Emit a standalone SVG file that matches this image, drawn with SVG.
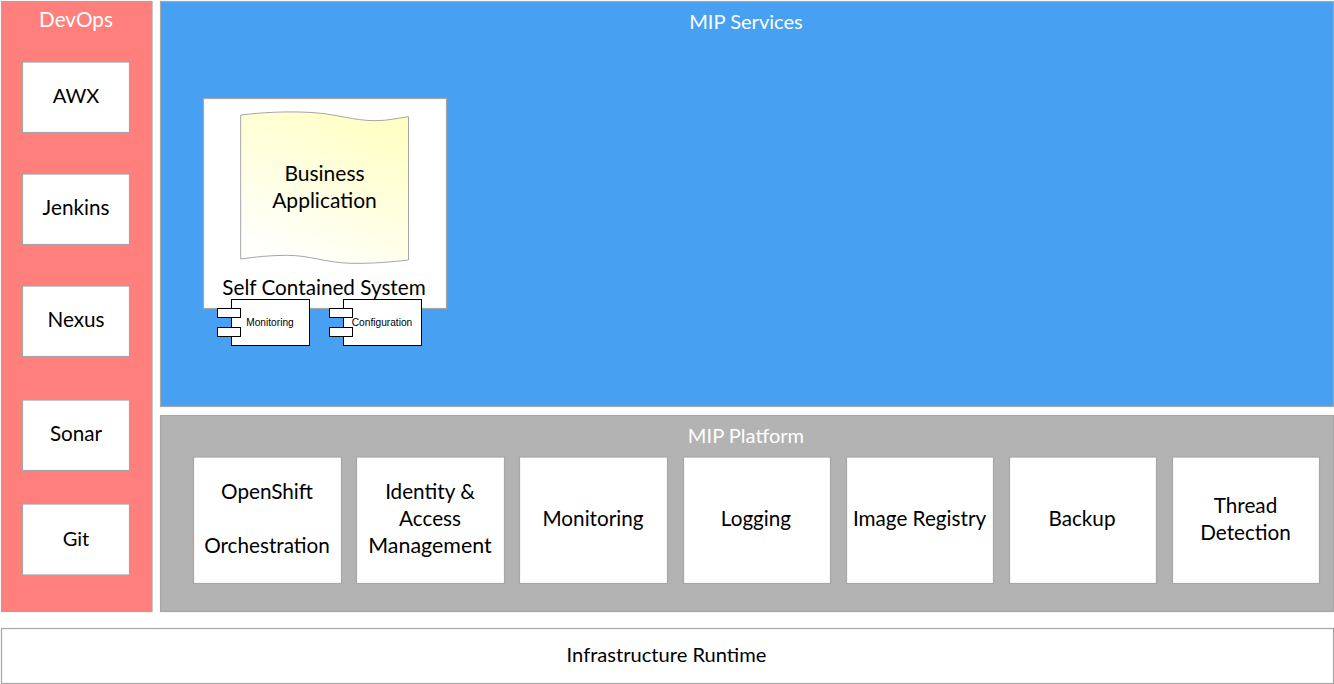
<svg xmlns="http://www.w3.org/2000/svg" width="1334" height="684" viewBox="0 0 1334 684">
<style>
text{font-family:"Lato","Noto Sans",sans-serif;font-size:20.7px;text-anchor:middle;fill:#000}
.t20{font-size:20.1px}
.w{fill:#fff}
.box{fill:#fff;stroke:#a6a6a6;stroke-width:1.2}
.pan{stroke:#a6a6a6;stroke-width:1.2}
.cmp{fill:#fff;stroke:#000;stroke-width:1}
.sm{font-family:"Liberation Sans",Arial,sans-serif;font-size:10.2px}
</style>
<defs>
<linearGradient id="doc" x1="0.9" y1="0" x2="0.4" y2="1">
<stop offset="0" stop-color="#ffffc0"/>
<stop offset="1" stop-color="#fffffb"/>
</linearGradient>
</defs>
<rect width="1334" height="684" fill="#fff"/>
<g id="devops">
<rect class="pan" x="1.500" y="1.500" width="150.500" height="610" fill="#ff7f7c"/>
<text class="w" x="76" y="27">DevOps</text>
</g>
<g id="awx"><rect class="box" x="22.500" y="62" width="107" height="70.500"/><text class="t20" x="76" y="103">AWX</text></g>
<g id="jenkins"><rect class="box" x="22.500" y="174" width="107" height="70.500"/><text x="76" y="215">Jenkins</text></g>
<g id="nexus"><rect class="box" x="22.500" y="286" width="107" height="70.500"/><text x="76" y="327">Nexus</text></g>
<g id="sonar"><rect class="box" x="22.500" y="400" width="107" height="70.500"/><text x="76" y="441">Sonar</text></g>
<g id="git"><rect class="box" x="22.500" y="504" width="107" height="71"/><text class="t20" x="76" y="546">Git</text></g>
<g id="services">
<rect class="pan" x="160.500" y="1.500" width="1173" height="405" fill="#47a0f2"/>
<text class="w t20" x="746" y="29">MIP Services</text>
</g>
<g id="scs">
<rect class="box" x="203.500" y="98.500" width="243" height="210"/>
<text x="324" y="295">Self Contained System</text>
</g>
<g id="business-application">
<path d="M240.700 115 C262 112.500 285 111 312 112.500 C340 114.500 352 120.500 375 120.700 C388 120.800 398 118 408.500 116.700 L408.500 260 C392 262 372 263.700 350 263.300 C325 262.500 310 255.300 286.700 255.300 C270 255.300 255 257 240.700 259 Z" fill="url(#doc)" stroke="#a6a6a6" stroke-width="1"/>
<text x="324.500" y="181" style="font-size:21px">Business</text>
<text x="324.500" y="208" style="font-size:21px">Application</text>
</g>
<g id="monitoring-component">
<rect class="cmp" x="231.500" y="299.500" width="78" height="46"/>
<rect class="cmp" x="217.500" y="308.500" width="23" height="9"/>
<rect class="cmp" x="217.500" y="327.500" width="23" height="9"/>
<text class="sm" x="270" y="326">Monitoring</text>
</g>
<g id="configuration-component">
<rect class="cmp" x="343.500" y="299.500" width="78" height="46"/>
<rect class="cmp" x="329.500" y="308.500" width="23" height="9"/>
<rect class="cmp" x="329.500" y="327.500" width="23" height="9"/>
<text class="sm" x="382" y="326">Configuration</text>
</g>
<g id="platform">
<rect class="pan" x="160.500" y="415.500" width="1173" height="196" fill="#b3b3b3"/>
<text class="w t20" x="746" y="443">MIP Platform</text>
</g>
<g id="openshift"><rect class="box" x="193.500" y="457" width="148" height="126.500"/><text x="267" y="499">OpenShift</text><text x="267" y="553">Orchestration</text></g>
<g id="iam"><rect class="box" x="356.500" y="457" width="148" height="126.500"/><text x="430" y="499">Identity &amp;</text><text x="430" y="526">Access</text><text x="430" y="553" style="font-size:21.400px">Management</text></g>
<g id="monitoring"><rect class="box" x="519.500" y="457" width="148" height="126.500"/><text x="593" y="526">Monitoring</text></g>
<g id="logging"><rect class="box" x="683.500" y="457" width="147" height="126.500"/><text x="756" y="526">Logging</text></g>
<g id="image-registry"><rect class="box" x="846.500" y="457" width="147" height="126.500"/><text x="919.500" y="526">Image Registry</text></g>
<g id="backup"><rect class="box" x="1009.500" y="457" width="147" height="126.500"/><text x="1082" y="526">Backup</text></g>
<g id="thread-detection"><rect class="box" x="1172.500" y="457" width="147" height="126.500"/><text x="1245.500" y="513">Thread</text><text x="1245.500" y="540">Detection</text></g>
<g id="infrastructure">
<rect class="box" x="1.500" y="628.500" width="1332" height="55"/>
<text class="t20" x="666.500" y="662">Infrastructure Runtime</text>
</g>
<g id="connectors"></g>
</svg>
